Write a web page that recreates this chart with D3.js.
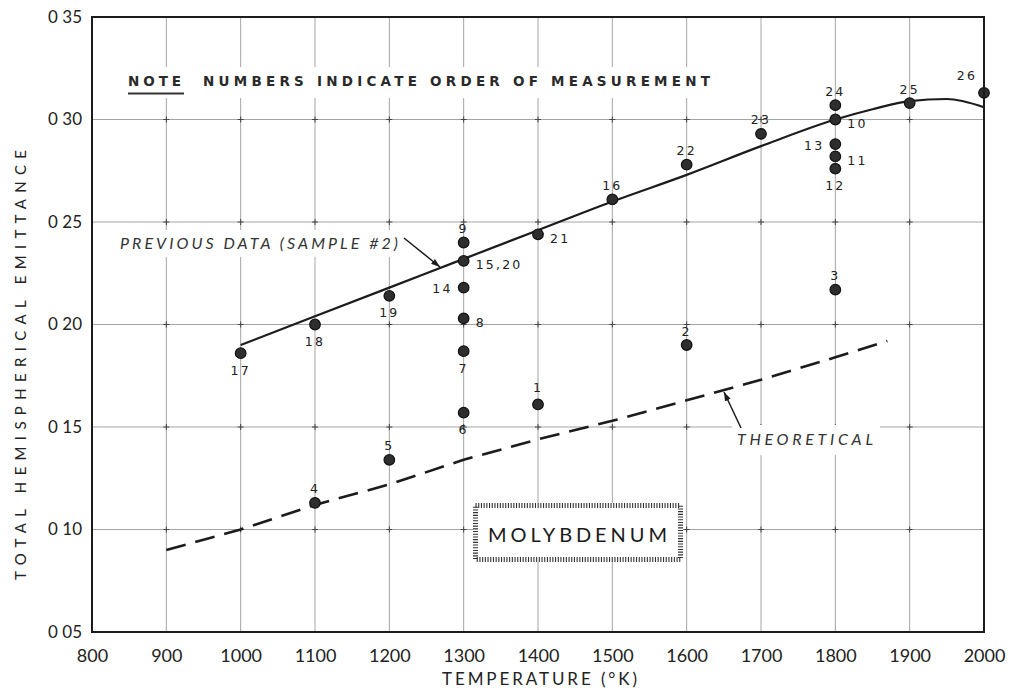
<!DOCTYPE html>
<html>
<head>
<meta charset="utf-8">
<script src="https://cdn.jsdelivr.net/npm/d3@7"></script>
<style>
  body { margin: 0; background: #fff; }
  svg { display: block; }
</style>
</head>
<body>
<svg id="chart" width="1025" height="690"></svg>
<script>
// Measured points: run order, temperature (K), total hemispherical emittance
const orderLabels  = ["1", "2", "3", "4", "5", "6", "7", "8", "9", "10", "11", "12", "13",
                      "14", "15,20", "16", "17", "18", "19", "21", "22", "23", "24", "25", "26"];
const temperatures = [1400, 1600, 1800, 1100, 1200, 1300, 1300, 1300, 1300, 1800, 1800, 1800, 1800,
                      1300, 1300, 1500, 1000, 1100, 1200, 1400, 1600, 1700, 1800, 1900, 2000];
const emittance    = [0.161, 0.190, 0.217, 0.113, 0.134, 0.157, 0.187, 0.203, 0.240, 0.300, 0.282, 0.276, 0.288,
                      0.218, 0.231, 0.261, 0.186, 0.200, 0.214, 0.244, 0.278, 0.293, 0.307, 0.308, 0.313];

// Previous data (sample #2) curve
const previousTemps  = [1000, 1100, 1200, 1300, 1400, 1500, 1600, 1700, 1800, 1850, 1900, 1950, 2000];
const previousValues = [0.190, 0.204, 0.218, 0.232, 0.246, 0.260, 0.273, 0.287, 0.300, 0.305, 0.309, 0.310, 0.306];

// Theoretical curve
const theoryTemps  = [900, 1000, 1100, 1200, 1300, 1400, 1500, 1600, 1700, 1800, 1870];
const theoryValues = [0.090, 0.100, 0.112, 0.122, 0.134, 0.144, 0.153, 0.163, 0.173, 0.184, 0.192];

// Axes
const xTickValues = [800, 900, 1000, 1100, 1200, 1300, 1400, 1500, 1600, 1700, 1800, 1900, 2000];
const yTickValues = [0.05, 0.10, 0.15, 0.20, 0.25, 0.30, 0.35];
const yTickLabels = ["0 05", "0 10", "0 15", "0 20", "0 25", "0 30", "0 35"];

// Where each run-order label sits relative to its marker
const labelPlacement = {
  "1": "aboveFar", "2": "above", "3": "above", "4": "above", "5": "above",
  "6": "below", "7": "below", "8": "right", "9": "above", "10": "right",
  "11": "right", "12": "below", "13": "left", "14": "left", "15,20": "right",
  "16": "above", "17": "below", "18": "below", "19": "below", "21": "right",
  "22": "above", "23": "above", "24": "above", "25": "above", "26": "aboveLeft"
};

const svg = d3.select("#chart");
const ink = "#1c1c1c";
const lightFont = "Lato, 'Open Sans', 'DejaVu Sans', sans-serif";
const letterFont = "'DejaVu Sans', 'Open Sans', sans-serif";

const x = d3.scaleLinear().domain([800, 2000]).range([92, 984]);
const y = d3.scaleLinear().domain([0.05, 0.35]).range([632, 17]);

// Grid
const grid = svg.append("g");
grid.selectAll("line.v").data(xTickValues.slice(1, -1)).join("line")
  .attr("x1", d => x(d)).attr("x2", d => x(d))
  .attr("y1", y(0.35)).attr("y2", y(0.05))
  .attr("stroke", "#a4a4a4").attr("stroke-width", 1);
grid.selectAll("line.h").data(yTickValues.slice(1, -1)).join("line")
  .attr("x1", x(800)).attr("x2", x(2000))
  .attr("y1", d => y(d)).attr("y2", d => y(d))
  .attr("stroke", "#a4a4a4").attr("stroke-width", 1);

// Small crosses at grid intersections
const crosses = [];
xTickValues.slice(1, -1).forEach(t => yTickValues.slice(1, -1).forEach(v => crosses.push([t, v])));
grid.selectAll("path.cross").data(crosses).join("path")
  .attr("d", d => `M${x(d[0]) - 3},${y(d[1])}h6M${x(d[0])},${y(d[1]) - 3}v6`)
  .attr("stroke", "#444").attr("stroke-width", 1);

// Paper showing through behind the annotations
const blank = svg.append("g").attr("fill", "#fff");
blank.append("rect").attr("x", 122).attr("y", 67).attr("width", 598).attr("height", 31);
blank.append("rect").attr("x", 116).attr("y", 230).attr("width", 288).attr("height", 27);
blank.append("rect").attr("x", 732).attr("y", 425).attr("width", 148).attr("height", 30);

// Arrow head
svg.append("defs").append("marker")
  .attr("id", "head").attr("viewBox", "0 0 10 10")
  .attr("refX", 10).attr("refY", 5)
  .attr("markerWidth", 9).attr("markerHeight", 9)
  .attr("markerUnits", "userSpaceOnUse")
  .attr("orient", "auto")
  .append("path").attr("d", "M0,1.5L10,5L0,8.5z").attr("fill", ink);

// Previous data curve
const prevLine = d3.line().x(d => x(d[0])).y(d => y(d[1])).curve(d3.curveMonotoneX);
svg.append("path")
  .datum(d3.zip(previousTemps, previousValues))
  .attr("d", prevLine)
  .attr("fill", "none").attr("stroke", ink).attr("stroke-width", 2.2);

// Theoretical curve
svg.append("path")
  .datum(d3.zip(theoryTemps, theoryValues))
  .attr("d", d3.line().x(d => x(d[0])).y(d => y(d[1])))
  .attr("fill", "none").attr("stroke", ink).attr("stroke-width", 2.6)
  .attr("stroke-dasharray", "20 10");

// Measured points
const points = d3.range(orderLabels.length).map(i => ({
  label: orderLabels[i], t: temperatures[i], v: emittance[i]
}));
svg.append("g").selectAll("circle").data(points).join("circle")
  .attr("cx", d => x(d.t)).attr("cy", d => y(d.v))
  .attr("r", 5.3)
  .attr("fill", "#2e2e2e").attr("stroke", "#111").attr("stroke-width", 1.2);

const offsets = {
  above: [0, -14, "middle"], aboveFar: [0, -17, "middle"], below: [0, 17, "middle"],
  right: [12, 4, "start"], left: [-11, 1, "end"], aboveLeft: [-17, -17, "middle"]
};
svg.append("g").selectAll("text").data(points).join("text")
  .attr("x", d => x(d.t) + offsets[labelPlacement[d.label]][0])
  .attr("y", d => y(d.v) + offsets[labelPlacement[d.label]][1])
  .attr("text-anchor", d => offsets[labelPlacement[d.label]][2])
  .attr("dominant-baseline", "central")
  .attr("font-family", letterFont).attr("font-size", 12.5)
  .attr("letter-spacing", 2.2)
  .attr("fill", "#222")
  .text(d => d.label);

// Note
svg.append("text")
  .attr("x", 128).attr("y", 86)
  .attr("font-family", letterFont).attr("font-size", 13.5).attr("font-weight", "bold")
  .attr("fill", "#2a2a2a")
  .attr("textLength", 53).attr("lengthAdjust", "spacing")
  .text("NOTE");
svg.append("line")
  .attr("x1", 128).attr("x2", 184).attr("y1", 93.5).attr("y2", 93.5)
  .attr("stroke", "#333").attr("stroke-width", 2.2);
svg.append("text")
  .attr("x", 203).attr("y", 86)
  .attr("font-family", letterFont).attr("font-size", 13.5).attr("font-weight", "bold")
  .attr("fill", "#2a2a2a")
  .attr("textLength", 507).attr("lengthAdjust", "spacing")
  .text("NUMBERS INDICATE ORDER OF MEASUREMENT");

// Curve annotations
svg.append("text")
  .attr("x", 120).attr("y", 249)
  .attr("font-family", lightFont).attr("font-style", "italic").attr("font-size", 16)
  .attr("fill", "#333")
  .attr("textLength", 278).attr("lengthAdjust", "spacing")
  .text("PREVIOUS DATA (SAMPLE #2)");
svg.append("line")
  .attr("x1", 404).attr("y1", 238).attr("x2", 440).attr("y2", 267)
  .attr("stroke", ink).attr("stroke-width", 1.5).attr("marker-end", "url(#head)");

svg.append("text")
  .attr("x", 737).attr("y", 445)
  .attr("font-family", lightFont).attr("font-style", "italic").attr("font-size", 16)
  .attr("fill", "#333")
  .attr("textLength", 136).attr("lengthAdjust", "spacing")
  .text("THEORETICAL");
svg.append("line")
  .attr("x1", 741).attr("y1", 428).attr("x2", 724).attr("y2", 392)
  .attr("stroke", ink).attr("stroke-width", 1.5).attr("marker-end", "url(#head)");

// Material label box with hatched border
const box = svg.append("g");
box.append("rect")
  .attr("x", 473).attr("y", 503).attr("width", 210).attr("height", 59)
  .attr("fill", "#fff");
box.append("rect")
  .attr("x", 475.5).attr("y", 505.5).attr("width", 205).attr("height", 54)
  .attr("fill", "none").attr("stroke", "#333").attr("stroke-width", 5)
  .attr("stroke-dasharray", "1.1 1.6");
box.append("text")
  .attr("x", 488).attr("y", 542)
  .attr("font-family", lightFont).attr("font-size", 20)
  .attr("fill", "#1a1a1a")
  .attr("textLength", 179).attr("lengthAdjust", "spacing")
  .text("MOLYBDENUM");

// Frame
svg.append("rect")
  .attr("x", x(800)).attr("y", y(0.35))
  .attr("width", x(2000) - x(800)).attr("height", y(0.05) - y(0.35))
  .attr("fill", "none").attr("stroke", ink).attr("stroke-width", 2);

// Axes
const xAxis = svg.append("g")
  .attr("transform", `translate(0,${y(0.05)})`)
  .call(d3.axisBottom(x).tickValues(xTickValues).tickFormat(d3.format("d")).tickSize(0).tickPadding(17));
const yAxis = svg.append("g")
  .attr("transform", `translate(${x(800)},0)`)
  .call(d3.axisLeft(y).tickValues(yTickValues).tickFormat((d, i) => yTickLabels[i]).tickSize(0).tickPadding(10));
[xAxis, yAxis].forEach(a => {
  a.select(".domain").remove();
  a.selectAll("text")
    .attr("font-family", lightFont).attr("font-size", 18)
    .attr("fill", "#222");
});
yAxis.selectAll("text").attr("font-size", 17);

// Axis titles
svg.append("text")
  .attr("x", 442).attr("y", 685)
  .attr("font-family", lightFont).attr("font-size", 17)
  .attr("fill", "#222")
  .attr("textLength", 195).attr("lengthAdjust", "spacing")
  .text("TEMPERATURE (°K)");
svg.append("text")
  .attr("transform", "translate(26,580) rotate(-90)")
  .attr("font-family", lightFont).attr("font-size", 15)
  .attr("fill", "#222")
  .attr("textLength", 430).attr("lengthAdjust", "spacing")
  .text("TOTAL HEMISPHERICAL EMITTANCE");
</script>
</body>
</html>
